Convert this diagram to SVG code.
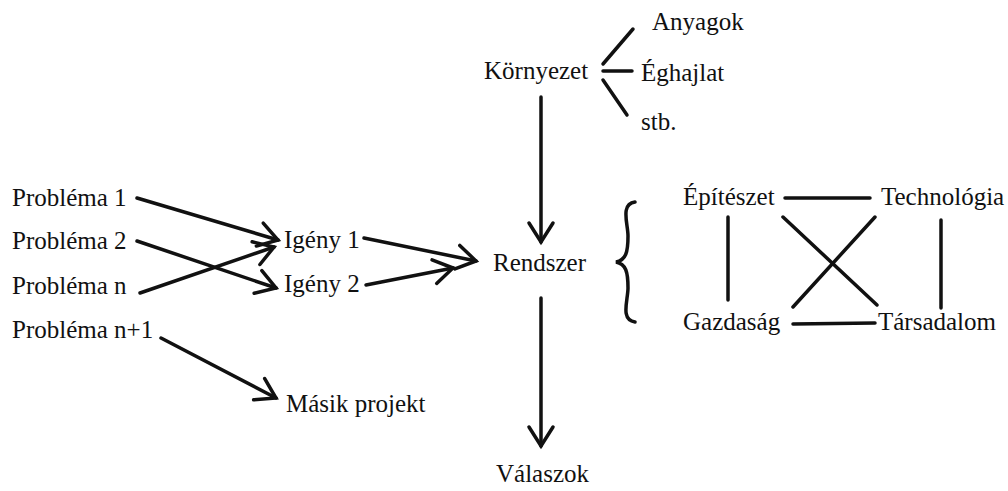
<svg xmlns="http://www.w3.org/2000/svg" width="1008" height="491" viewBox="0 0 1008 491">
<defs>
<style>
.c line,.c path{stroke:#111;stroke-width:3.5;fill:none;stroke-linecap:round}
.a{marker-end:url(#ah)}
</style>
<marker id="ah" markerUnits="userSpaceOnUse" markerWidth="30" markerHeight="30" viewBox="-22 -15 26 30" refX="0" refY="0" orient="auto">
<path d="M-19 -12 L0 0 L-19 12" fill="none" stroke="#111" stroke-width="3.5" stroke-linecap="round" stroke-linejoin="miter"/>
</marker>
</defs>
<rect width="1008" height="491" fill="#fff"/>
<g id="p1"><text x="12" y="206" font-family="Liberation Serif" font-size="25" fill="#111">Probléma 1</text></g>
<g id="p2"><text x="12" y="249" font-family="Liberation Serif" font-size="25" fill="#111">Probléma 2</text></g>
<g id="pn"><text x="12" y="294" font-family="Liberation Serif" font-size="25" fill="#111">Probléma n</text></g>
<g id="pn1"><text x="12" y="338" font-family="Liberation Serif" font-size="25" fill="#111">Probléma n+1</text></g>
<g id="i1"><text x="284" y="248" font-family="Liberation Serif" font-size="25" fill="#111">Igény 1</text></g>
<g id="i2"><text x="284" y="292" font-family="Liberation Serif" font-size="25" fill="#111">Igény 2</text></g>
<g id="rendszer"><text x="493" y="271" font-family="Liberation Serif" font-size="25" fill="#111">Rendszer</text></g>
<g id="kornyezet"><text x="484" y="79" font-family="Liberation Serif" font-size="25" fill="#111">Környezet</text></g>
<g id="anyagok"><text x="652" y="30" font-family="Liberation Serif" font-size="25" fill="#111">Anyagok</text></g>
<g id="eghajlat"><text x="641" y="81" font-family="Liberation Serif" font-size="25" fill="#111">Éghajlat</text></g>
<g id="stb"><text x="641" y="130" font-family="Liberation Serif" font-size="25" fill="#111">stb.</text></g>
<g id="valaszok"><text x="496" y="482" font-family="Liberation Serif" font-size="25" fill="#111">Válaszok</text></g>
<g id="masik"><text x="286" y="412" font-family="Liberation Serif" font-size="25" fill="#111">Másik projekt</text></g>
<g id="epiteszet"><text x="683" y="205" font-family="Liberation Serif" font-size="25" fill="#111">Építészet</text></g>
<g id="technologia"><text x="881" y="205" font-family="Liberation Serif" font-size="25" fill="#111">Technológia</text></g>
<g id="gazdasag"><text x="683" y="330" font-family="Liberation Serif" font-size="25" fill="#111">Gazdaság</text></g>
<g id="tarsadalom"><text x="878" y="330" font-family="Liberation Serif" font-size="25" fill="#111">Társadalom</text></g>
<g id="connectors" class="c">
<line class="a" x1="137" y1="198" x2="278" y2="240"/>
<line class="a" x1="137" y1="241" x2="276" y2="288"/>
<line class="a" x1="140" y1="293" x2="274" y2="247"/>
<line class="a" x1="364" y1="238" x2="476" y2="261"/>
<line class="a" x1="366" y1="285" x2="453" y2="268"/>
<line class="a" x1="161" y1="338" x2="276" y2="398"/>
<line class="a" x1="541" y1="97" x2="541" y2="242"/>
<line class="a" x1="541" y1="298" x2="541" y2="446"/>
<line x1="603" y1="64" x2="633" y2="29"/>
<line x1="603" y1="71" x2="632" y2="71"/>
<line x1="603" y1="80" x2="627" y2="115"/>
<line x1="785" y1="198" x2="870" y2="198"/>
<line x1="728" y1="217" x2="728" y2="300"/>
<line x1="941" y1="220" x2="941" y2="308"/>
<line x1="783" y1="217" x2="877" y2="305"/>
<line x1="875" y1="217" x2="793" y2="307"/>
<line x1="793" y1="324" x2="875" y2="323"/>
<path stroke-width="3" d="M635 202 C620 204 628 224 628 236 C628 252 626 260 616 262 C626 264 628 272 628 288 C628 300 620 320 635 322"/>
</g>
</svg>
